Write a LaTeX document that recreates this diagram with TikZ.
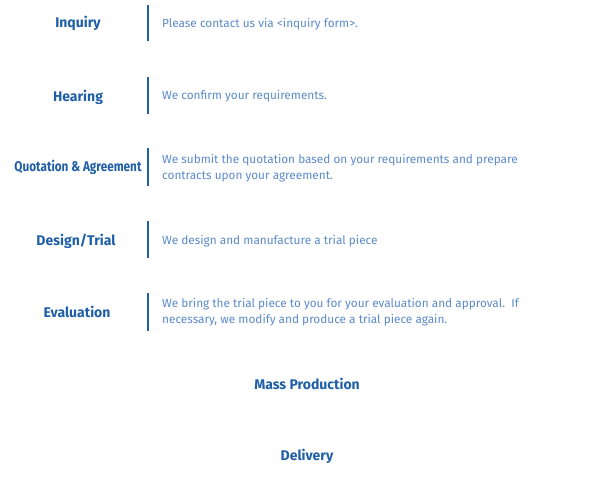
\documentclass[tikz,border=0pt]{standalone}
\usepackage{fontspec}
\setmainfont{Fira Sans}
\newfontfamily\stepfont{Fira Sans}
\definecolor{stepblue}{HTML}{1F5FA6}
\definecolor{textblue}{HTML}{5A8AC8}
\tikzset{
  steptitle/.style={text=stepblue, font=\stepfont\bfseries\fontsize{14}{16}\selectfont, inner sep=0pt},
  stepnote/.style={text=textblue, font=\fontsize{11.8}{16}\selectfont, anchor=west, align=left, inner sep=0pt},
  divider/.style={stepblue, line width=1.2pt}
}
\begin{document}
\begin{tikzpicture}[x=1pt, y=-1pt]
  \useasboundingbox (0,0) rectangle (615,479);

  \node[steptitle] (inquiry) at (78,23) {Inquiry};
  \draw[divider] (148,5) -- (148,41);
  \node[stepnote] (inquirynote) at (162,24) {Please contact us via <inquiry form>.};

  \node[steptitle] (hearing) at (78,97) {Hearing};
  \draw[divider] (148,77) -- (148,114);
  \node[stepnote] (hearingnote) at (162,96) {We confirm your requirements.};

  \node[steptitle] (quotation) at (78,167) {\scalebox{0.84}[1]{Quotation \& Agreement}};
  \draw[divider] (148,148) -- (148,186);
  \node[stepnote] (quotationnote) at (162,168) {We submit the quotation based on your requirements and prepare\\contracts upon your agreement.};

  \node[steptitle] (design) at (76,241) {Design/Trial};
  \draw[divider] (148,221) -- (148,258);
  \node[stepnote] (designnote) at (162,241) {We design and manufacture a trial piece};

  \node[steptitle] (evaluation) at (77,312) {Evaluation};
  \draw[divider] (148,293) -- (148,331);
  \node[stepnote] (evaluationnote) at (162,312) {We bring the trial piece to you for your evaluation and approval.\ \ If\\necessary, we modify and produce a trial piece again.};

  \node[steptitle] (massprod) at (307,384) {Mass Production};

  \node[steptitle] (delivery) at (307,456) {Delivery};
\end{tikzpicture}
\end{document}
